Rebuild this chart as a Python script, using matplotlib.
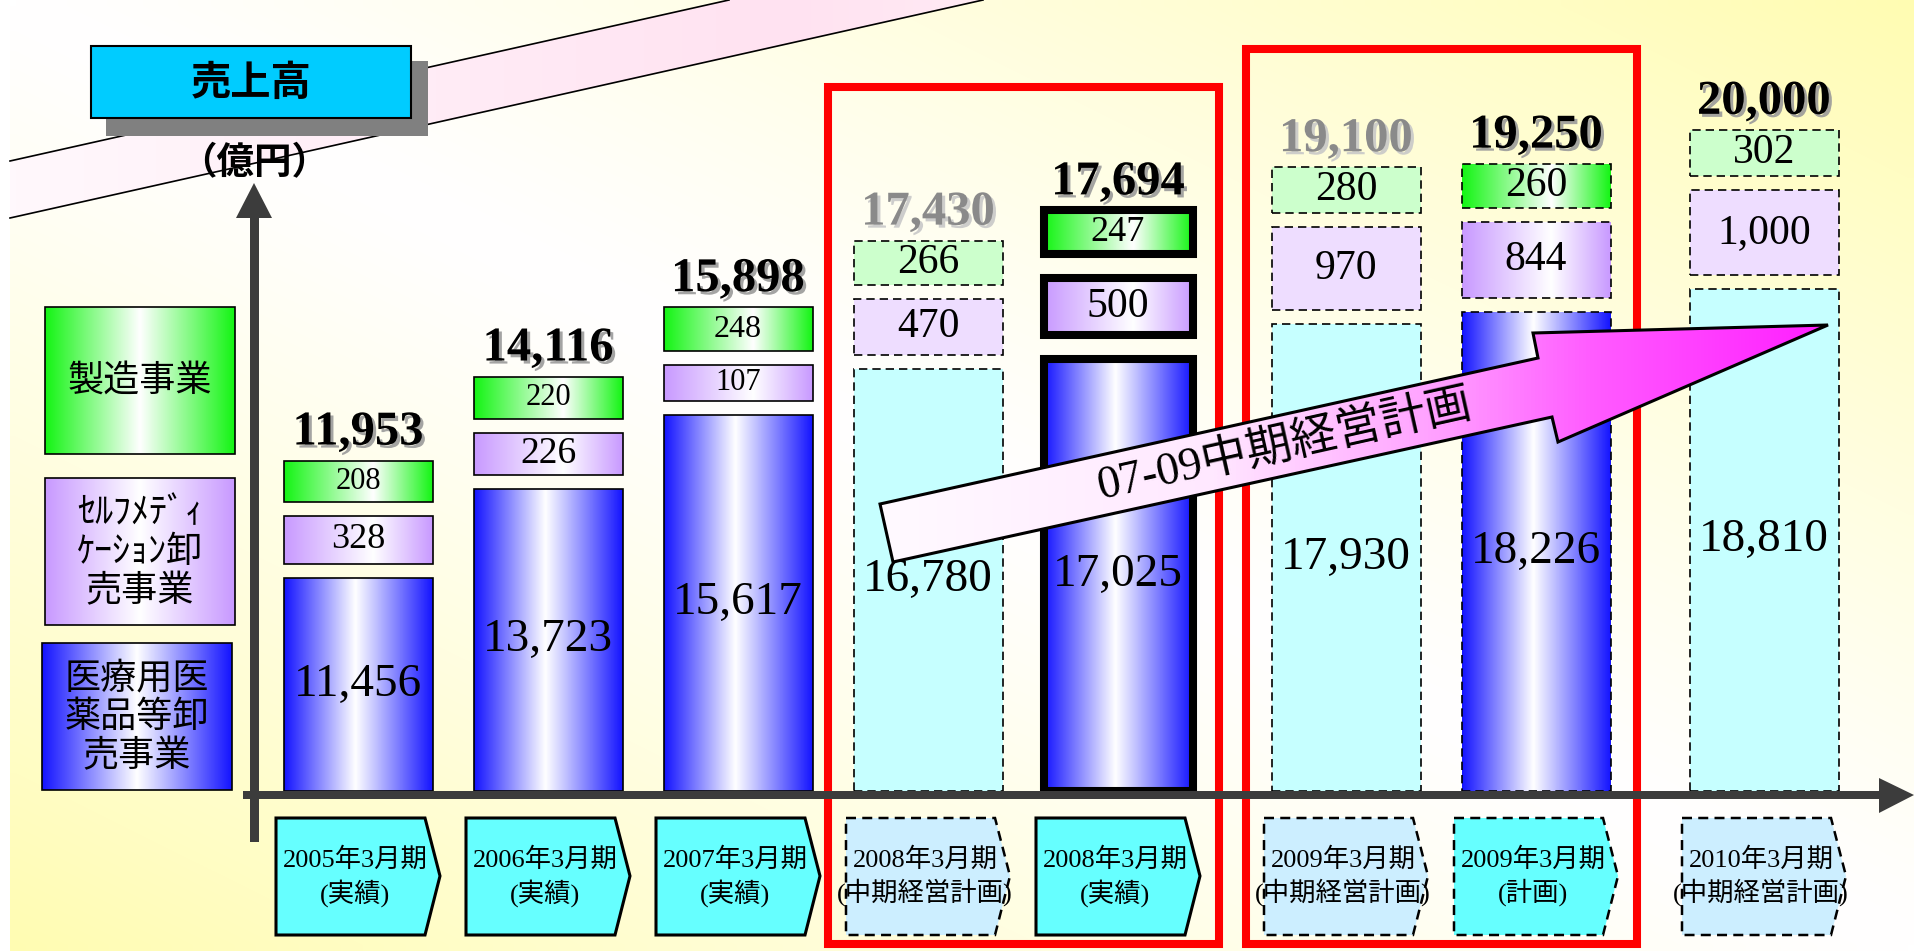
import numpy as np
import matplotlib
matplotlib.use("Agg")
import matplotlib.pyplot as plt
import matplotlib.patheffects as pe
from matplotlib.colors import LinearSegmentedColormap
from matplotlib.patches import Rectangle, Polygon
from matplotlib.transforms import blended_transform_factory

# ---- data (億円) ----
periods = ["2005年3月期", "2006年3月期", "2007年3月期", "2008年3月期", "2008年3月期",
           "2009年3月期", "2009年3月期", "2010年3月期"]
period_notes = ["(実績)", "(実績)", "(実績)", "(中期経営計画)", "(実績)",
                "(中期経営計画)", "(計画)", "(中期経営計画)"]
pharma_sales = [11456, 13723, 15617, 16780, 17025, 17930, 18226, 18810]
selfmed_sales = [328, 226, 107, 470, 500, 970, 844, 1000]
manufacturing_sales = [208, 220, 248, 266, 247, 280, 260, 302]
total_sales = [11953, 14116, 15898, 17430, 17694, 19100, 19250, 20000]
legend_labels = ["製造事業", "ｾﾙﾌﾒﾃﾞｨ\nｹｰｼｮﾝ卸\n売事業", "医療用医\n薬品等卸\n売事業"]
title_text = "売上高"
unit_text = "（億円）"
arrow_text = "07-09中期経営計画"

# ---- look ----
bar_kind = ["actual", "actual", "actual", "plan", "actual_bold", "plan", "plan_grad", "plan"]
slot_gap = [0, 0, 0, 0, 0, 1, 1, 2]          # extra room between the framed blocks
purple_fs = [26, 27, 22, 30, 30, 30, 30, 30]
green_fs = [22, 22, 23, 30, 26, 30, 30, 30]
grey_total = [False, False, False, True, False, True, False, False]

SERIF = ["Liberation Serif", "Noto Sans CJK JP"]
GOTHIC = ["Noto Sans CJK JP", "DejaVu Sans"]
BLUE, PURPLE, GREEN = "#1414FF", "#C899FF", "#14F514"
PALE_CYAN, PALE_PURPLE, PALE_GREEN = "#C6FFFF", "#EEDDFF", "#CCFFCC"

W, H, DPI = 1914, 951, 100
X0, DX = 358.0, 190.0                 # pixel centre of first slot, pixels per slot
BASE, K, V0 = 791.0, 0.03924, 6028.0  # baseline pixel, pixels per 億円, value at baseline
BW = 149 / DX

fig = plt.figure(figsize=(W / DPI, H / DPI), dpi=DPI)


def pixel_axes(z):
    a = fig.add_axes([0, 0, 1, 1], zorder=z)
    a.axis("off")
    return a


def fill_gradient(axis, clip, extent, stops, z):
    cmap = LinearSegmentedColormap.from_list("g", stops)
    im = axis.imshow(np.linspace(0, 1, 256)[None, :], cmap=cmap, extent=extent,
                     aspect="auto", origin="lower", interpolation="bilinear", zorder=z)
    im.set_clip_path(clip)
    return im


def seg_height(v):
    # the small business segments are drawn on a compressed scale
    return (30 + 0.055 * np.asarray(v, float)) / K


# ---------------- background layer ----------------
ax = pixel_axes(0)
yy, xx = np.mgrid[0:1:80j, 0:1:160j]
f = np.clip(np.abs(xx - yy), 0, 1) ** 1.2
bg = np.ones((80, 160, 3))
bg[..., 2] = 1 - 0.3 * f
bg[..., 1] = 1 - 0.01 * f
ax.imshow(bg, extent=[10, W, H, 0], origin="upper", aspect="auto", interpolation="bilinear", zorder=0)

band = Polygon([(10, 161), (729, 0), (983, 0), (10, 218)], closed=True, facecolor="none", edgecolor="none")
ax.add_patch(band)
fill_gradient(ax, band, [10, 983, 218, 0], [(0, "#FFF8FC"), (0.8, "#FFE2F1"), (1, "#FFEAF4")], 1)
ax.plot([10, 729], [161, 0], color="black", lw=1.2, zorder=2)
ax.plot([10, 983], [218, 0], color="black", lw=1.2, zorder=2)

ax.add_patch(Rectangle((106, 61), 322, 75, facecolor="#808080", edgecolor="none", zorder=3))
ax.add_patch(Rectangle((91, 46), 320, 72, facecolor="#00CCFF", edgecolor="black", lw=1.5, zorder=4))
ax.text(251, 83, title_text, ha="center", va="center", fontsize=29, fontweight="bold",
        family=GOTHIC, zorder=5)
ax.text(254, 163, unit_text, ha="center", va="center", fontsize=27, fontweight="bold",
        family=GOTHIC, zorder=5)

legend_boxes = [(45, 307, GREEN), (45, 478, PURPLE), (42, 643, BLUE)]
for (lx, ly, col), lab in zip(legend_boxes, legend_labels):
    r = Rectangle((lx, ly), 190, 147, facecolor="none", edgecolor="black", lw=1.2, zorder=3)
    ax.add_patch(r)
    fill_gradient(ax, r, [lx, lx + 190, ly + 147, ly], [(0, col), (0.5, "white"), (1, col)], 2)
    ax.text(lx + 95, ly + 74, lab, ha="center", va="center", fontsize=26, family=GOTHIC,
            linespacing=1.1, zorder=4)
ax.set_xlim(0, W)
ax.set_ylim(H, 0)

# ---------------- bars layer ----------------
bx = fig.add_axes([0, 0, 1, 1], zorder=1)
bx.axis("off")
bt = blended_transform_factory(bx.transData, ax.transData)

n = len(pharma_sales)
pos = np.arange(n) + 0.2 * np.array(slot_gap)
pharma = np.array(pharma_sales, float)
bold = np.array([k == "actual_bold" for k in bar_kind])
gap = np.where(bold, 24, 14) / K
sm_bottom = pharma + gap
sm_top = sm_bottom + seg_height(selfmed_sales)
mf_bottom = sm_top + gap
mf_top = mf_bottom + seg_height(manufacturing_sales)

shadow_dark = [pe.SimplePatchShadow(offset=(2.2, -2.2), shadow_rgbFace="#9A9A9A", alpha=0.9), pe.Normal()]
shadow_light = [pe.SimplePatchShadow(offset=(2.2, -2.2), shadow_rgbFace="#C8C8C8", alpha=0.9), pe.Normal()]

for i in range(n):
    kind = bar_kind[i]
    x = pos[i]
    dashed = kind.startswith("plan")
    graded = kind != "plan"
    lw = 5.8 if kind == "actual_bold" else 1.2
    ls = (0, (5, 3)) if dashed else "solid"
    parts = [(V0, pharma[i], BLUE, PALE_CYAN, 0.48),
             (sm_bottom[i], sm_top[i], PURPLE, PALE_PURPLE, 0.6),
             (mf_bottom[i], mf_top[i], GREEN, PALE_GREEN, 0.6)]
    for bottom, top, col, pale, c in parts:
        rect = bx.bar(x, top - bottom, bottom=bottom, width=BW,
                      facecolor="none" if graded else pale, edgecolor="black",
                      linewidth=lw, linestyle=ls, zorder=3)[0]
        if graded:
            fill_gradient(bx, rect, [x - BW / 2, x + BW / 2, bottom, top],
                          [(0, col), (c, "white"), (1, col)], 2)

    bx.text(x, (V0 + pharma[i]) / 2, f"{pharma_sales[i]:,}", ha="center", va="center",
            fontsize=34, family=SERIF, zorder=4)
    bx.text(x, (sm_bottom[i] + sm_top[i]) / 2, f"{selfmed_sales[i]:,}", ha="center", va="center",
            fontsize=purple_fs[i], family=SERIF, zorder=4)
    bx.text(x, (mf_bottom[i] + mf_top[i]) / 2, f"{manufacturing_sales[i]:,}", ha="center", va="center",
            fontsize=green_fs[i], family=SERIF, zorder=4)
    bx.text(x, mf_top[i] + 16 / K, f"{total_sales[i]:,}", ha="center", va="baseline",
            fontsize=35, fontweight="bold", family=SERIF, zorder=4,
            color="#8A8A8A" if grey_total[i] else "black",
            path_effects=shadow_light if grey_total[i] else shadow_dark)

    # period tag below the axis
    hw, cw = 82 / DX, 67 / DX
    tag = Polygon([(x - hw, 818), (x + cw, 818), (x + hw, 876), (x + cw, 935), (x - hw, 935)],
                  closed=True, transform=bt, zorder=3,
                  facecolor="#CCEEFF" if kind == "plan" else "#66FFFF",
                  edgecolor="black", lw=2.2 if not dashed else 1.8,
                  linestyle=(0, (4, 2.5)) if dashed else "solid")
    bx.add_patch(tag)
    bx.text(x - 3 / DX, 877, periods[i] + "\n" + period_notes[i], transform=bt, ha="center",
            va="center", fontsize=19, family=SERIF, linespacing=1.3, zorder=4)

# red frames around the plan/actual pairs
for a, b, top in [(3, 4, 87), (5, 6, 49)]:
    left = pos[a] - BW / 2 - 26 / DX
    right = pos[b] + BW / 2 + 26 / DX
    bx.add_patch(Rectangle((left, top), right - left, 944 - top, transform=bt, facecolor="none",
                           edgecolor="#FF0000", lw=5.8, zorder=5))

bx.set_xlim(-X0 / DX, (W - X0) / DX)
bx.set_ylim(V0 - (H - BASE) / K, V0 + BASE / K)

# ---------------- overlay layer ----------------
tx = pixel_axes(2)
axis_col = "#3C3C3C"
tx.add_patch(Rectangle((243, 791), 1879 - 243, 8, facecolor=axis_col, edgecolor="none"))
tx.add_patch(Polygon([(1879, 778), (1914, 795), (1879, 813)], closed=True, facecolor=axis_col, edgecolor="none"))
tx.add_patch(Rectangle((249.5, 217), 9, 842 - 217, facecolor=axis_col, edgecolor="none"))
tx.add_patch(Polygon([(236, 218), (254, 183), (272, 218)], closed=True, facecolor=axis_col, edgecolor="none"))

arrow_pts = [(880, 504), (1538, 358), (1533, 333), (1828, 325), (1558, 442), (1552, 417), (893, 562)]
arrow = Polygon(arrow_pts, closed=True, facecolor="none", edgecolor="black", lw=2.2, zorder=3)
tx.add_patch(arrow)
fill_gradient(tx, arrow, [880, 1828, 562, 325],
              [(0, "#FFFAFF"), (0.35, "#FFE8FF"), (0.6, "#FF9CFF"), (0.75, "#FF5CFF"), (1, "#FF1EFF")], 2)
tx.text(1284, 446, arrow_text, rotation=12.6, rotation_mode="anchor", ha="center", va="center",
        fontsize=33, family=SERIF, zorder=4)
tx.set_xlim(0, W)
tx.set_ylim(H, 0)

fig.savefig("out.png", dpi=DPI, facecolor="white")
